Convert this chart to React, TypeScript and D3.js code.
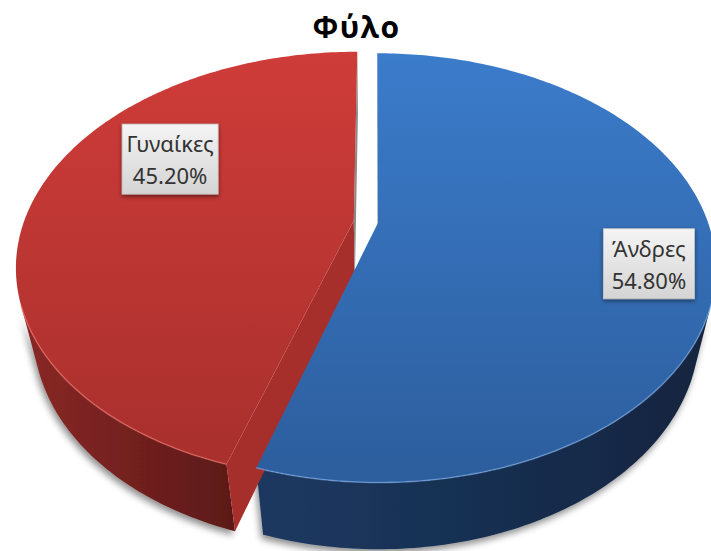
import React from "react";
import * as d3 from "d3";

const title = "Φύλο";
const categories = ["Άνδρες", "Γυναίκες"];
const values = [54.8, 45.2];

// ---- layout / camera (not data) ----
const W = 711;
const H = 551;
const CX = 374;
const CY = 288.1;
const FOCAL = 314.7;
const DIST = 3.752;
const ELEV = (41.5 * Math.PI) / 180;
const THICK = 0.265;
const SN = Math.sin(ELEV);
const CS = Math.cos(ELEV);
const EXPLODE = [0.012, 0.062];
const LABEL_SHIFT = [5, 19.6];
const LABEL_R = [0.81, 0.68];

const topColors = [
  ["#3b7ccb", "#2c5d9c"],
  ["#cf3c39", "#a62f2c"],
];
const sideColors = [
  ["#1c3961", "#13243f"],
  ["#8a2826", "#5c1918"],
];
const rimColors = ["rgba(130,175,235,0.55)", "rgba(235,110,105,0.6)"];

function project(X: number, Z: number, Y: number): [number, number] {
  const d = Y * SN + Z * CS;
  const s = DIST / (DIST - d);
  return [CX + FOCAL * X * s, CY - FOCAL * (Y * CS - Z * SN) * s];
}

const line = d3.line<[number, number]>().x((p) => p[0]).y((p) => p[1]);

export default function App() {
  const pie = d3
    .pie<number>()
    .sort(null)
    .value((d) => d)(values);
  const fmt = d3.format(".2f");
  const total = d3.sum(values);

  const slices = pie.map((p, i) => {
    const mid = (p.startAngle + p.endAngle) / 2;
    const ox = EXPLODE[i] * Math.sin(mid);
    const oz = -EXPLODE[i] * Math.cos(mid);
    const pt = (a: number, r: number, y: number) =>
      project(ox + r * Math.sin(a), oz - r * Math.cos(a), y);
    const n = Math.max(8, Math.ceil(((p.endAngle - p.startAngle) / (2 * Math.PI)) * 400));
    const angles = d3.range(n + 1).map((k) => p.startAngle + ((p.endAngle - p.startAngle) * k) / n);

    const topPts: [number, number][] = [pt(0, 0, THICK), ...angles.map((a) => pt(a, 1, THICK))];
    const topPath = line(topPts) + "Z";

    const camZ = DIST * CS;
    const vis = angles.filter((a) => {
      const X = ox + Math.sin(a);
      const Z = oz - Math.cos(a);
      return Math.sin(a) * (0 - X) + -Math.cos(a) * (camZ - Z) > 0;
    });
    let sidePath = "";
    let rimPath = "";
    if (vis.length > 1) {
      const upper = vis.map((a) => pt(a, 1, THICK));
      const lower = vis.map((a) => pt(a, 1, 0)).reverse();
      sidePath = line([...upper, ...lower]) + "Z";
      rimPath = line(upper) || "";
    }

    const faces: { d: string; front: boolean }[] = [];
    [
      { a: p.startAngle, sign: -1 },
      { a: p.endAngle, sign: 1 },
    ].forEach(({ a, sign }) => {
      const nx = sign * Math.cos(a);
      const nz = sign * Math.sin(a);
      const dot = nx * (0 - ox) + nz * (camZ - oz);
      if (dot > 0) {
        const quad = [pt(0, 0, THICK), pt(a, 1, THICK), pt(a, 1, 0), pt(0, 0, 0)];
        faces.push({ d: line(quad) + "Z", front: Math.abs(a - Math.PI) < Math.PI / 2 });
      }
    });

    const la = mid + (LABEL_SHIFT[i] * Math.PI) / 180;
    const [lx, ly] = pt(la, LABEL_R[i], THICK);

    return { i, topPath, sidePath, rimPath, faces, lx, ly, value: p.data };
  });

  return (
    <svg width={W} height={H} style={{ display: "block", position: "absolute", left: 0, top: 0 }}>
      <defs>
        {slices.map((s) => (
          <linearGradient key={"tg" + s.i} id={"top" + s.i} gradientUnits="userSpaceOnUse" x1="0" y1="50" x2="0" y2="490">
            <stop offset="0" stopColor={topColors[s.i][0]} />
            <stop offset="1" stopColor={topColors[s.i][1]} />
          </linearGradient>
        ))}
        {slices.map((s) => (
          <linearGradient key={"sg" + s.i} id={"side" + s.i} gradientUnits="objectBoundingBox" x1="0" y1="0" x2="1" y2="0">
            <stop offset="0" stopColor={sideColors[s.i][0]} />
            <stop offset="1" stopColor={sideColors[s.i][1]} />
          </linearGradient>
        ))}
        <linearGradient id="box" x1="0" y1="0" x2="0" y2="1">
          <stop offset="0" stopColor="#f4f4f4" />
          <stop offset="1" stopColor="#d4d4d4" />
        </linearGradient>
        <filter id="shadow" x="-20%" y="-20%" width="140%" height="160%">
          <feGaussianBlur in="SourceAlpha" stdDeviation="3.5" />
          <feOffset dx="-2" dy="4" result="b" />
          <feComponentTransfer>
            <feFuncA type="linear" slope="0.45" />
          </feComponentTransfer>
          <feMerge>
            <feMergeNode />
            <feMergeNode in="SourceGraphic" />
          </feMerge>
        </filter>
        <filter id="boxShadow" x="-20%" y="-20%" width="140%" height="150%">
          <feGaussianBlur in="SourceAlpha" stdDeviation="2" />
          <feOffset dx="0" dy="2" />
          <feComponentTransfer>
            <feFuncA type="linear" slope="0.5" />
          </feComponentTransfer>
          <feMerge>
            <feMergeNode />
            <feMergeNode in="SourceGraphic" />
          </feMerge>
        </filter>
      </defs>
      <rect width={W} height={H} fill="#ffffff" />

      {slices.map((s) =>
        s.sidePath ? <path key={"side" + s.i} d={s.sidePath} fill={`url(#side${s.i})`} filter="url(#shadow)" /> : null
      )}
      {slices.map((s) =>
        s.faces.map((f, k) => (
          <path key={"f" + s.i + k} d={f.d} fill={f.front ? topColors[s.i][1] : "#8a8a8a"} />
        ))
      )}
      {slices.map((s) => (
        <path key={"top" + s.i} d={s.topPath} fill={`url(#top${s.i})`} />
      ))}
      {slices.map((s) =>
        s.rimPath ? (
          <path key={"rim" + s.i} d={s.rimPath} fill="none" stroke={rimColors[s.i]} strokeWidth={1.6} />
        ) : null
      )}

      {slices.map((s) => {
        const bw = s.i === 0 ? 91 : 96;
        const bh = 70;
        return (
          <g key={"lab" + s.i} transform={`translate(${s.lx},${s.ly})`}>
            <rect x={-bw / 2} y={-bh / 2} width={bw} height={bh} fill="url(#box)" stroke="#c8c8c8" strokeWidth={0.8} filter="url(#boxShadow)" />
            <text textAnchor="middle" y={-7} fontFamily="'Noto Sans', sans-serif" fontSize={22} fill="#333">
              {categories[s.i]}
            </text>
            <text textAnchor="middle" y={25} fontFamily="'Noto Sans', sans-serif" fontSize={22} fill="#333">
              {fmt((s.value / total) * 100) + "%"}
            </text>
          </g>
        );
      })}

      <text x={W / 2 + 1} y={38} textAnchor="middle" fontFamily="'Open Sans', sans-serif" fontWeight="bold" fontSize={30} letterSpacing={1.5} fill="#000">
        {title}
      </text>
    </svg>
  );
}
